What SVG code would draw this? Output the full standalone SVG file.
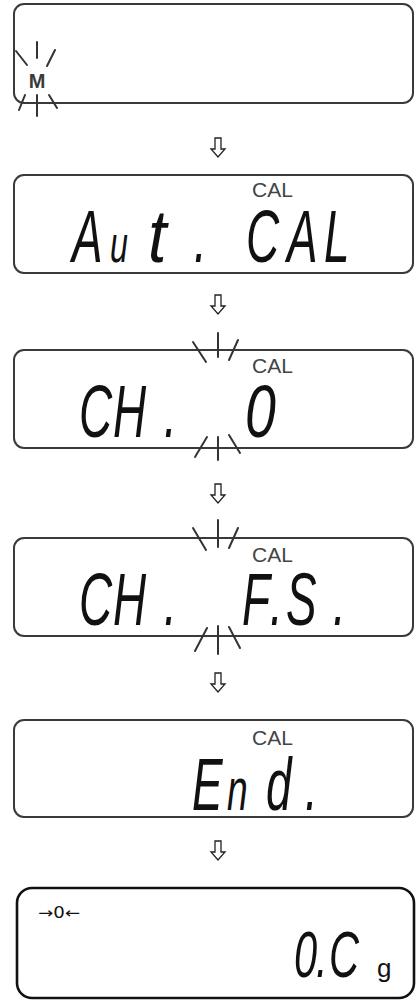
<svg xmlns="http://www.w3.org/2000/svg" width="416" height="1000" viewBox="0 0 416 1000">
<style>
.box{fill:#fff;stroke:#3a3a3a;stroke-width:2}
.box6{fill:#fff;stroke:#111;stroke-width:2.6}
.seg{font-family:"Liberation Sans",Arial,sans-serif;font-style:italic;font-size:74px;fill:#111}
.lc{font-size:52px}
.cal{font-family:"Liberation Sans",Arial,sans-serif;font-size:21px;fill:#444}
.ray{stroke:#333;stroke-width:2;stroke-linecap:round}
.arr{fill:#fff;stroke:#222;stroke-width:1.3;stroke-linejoin:miter}
</style>
<defs>
<path id="dn" class="arr" d="M-3,0 H3 V11 H7 L0,19 L-7,11 H-3 Z"/>
</defs>

<g id="connectors">
<use href="#dn" x="218" y="138"/>
<use href="#dn" x="218" y="295"/>
<use href="#dn" x="218" y="484"/>
<use href="#dn" x="218" y="673"/>
<use href="#dn" x="218" y="841"/>
</g>

<g id="node1">
<rect class="box" x="14" y="4" width="399" height="99" rx="10"/>
<text x="37" y="88" text-anchor="middle" font-family="Liberation Sans,Arial,sans-serif" font-weight="bold" font-size="20" fill="#3a3a3a">M</text>
<g class="ray">
<line x1="37" y1="42" x2="37" y2="58"/>
<line x1="16" y1="51" x2="27" y2="65"/>
<line x1="55" y1="50" x2="47" y2="66"/>
<line x1="37" y1="95" x2="37" y2="116"/>
<line x1="25" y1="95" x2="19" y2="110"/>
<line x1="49" y1="95" x2="57" y2="108"/>
</g>
</g>

<g id="node2">
<rect class="box" x="14" y="175" width="399" height="98" rx="10"/>
<text class="cal" x="252" y="197">CAL</text>
<text class="seg" transform="scale(0.62 1)" y="262"><tspan x="116.1">A</tspan><tspan class="lc" x="177.4">u</tspan></text>
<text class="seg" transform="scale(0.9 1)" x="164.4" y="262">t</text>
<text class="seg" transform="scale(0.62 1)" y="262"><tspan x="312.9">.</tspan><tspan x="396.8">C</tspan><tspan x="462.9">A</tspan><tspan x="522.6">L</tspan></text>
</g>

<g id="node3">
<rect class="box" x="14" y="350" width="399" height="98" rx="10"/>
<text class="cal" x="252" y="373">CAL</text>
<text class="seg" transform="scale(0.62 1)" y="437"><tspan x="127.4">C</tspan><tspan x="182.3">H</tspan><tspan x="264.5">.</tspan></text>
<text class="seg" transform="scale(0.75 1)" x="326.7" y="437">0</text>
<g class="ray">
<line x1="218" y1="333" x2="218" y2="357"/>
<line x1="193" y1="342" x2="206" y2="362"/>
<line x1="238" y1="340" x2="229" y2="360"/>
<line x1="218" y1="437" x2="218" y2="460"/>
<line x1="207" y1="437" x2="195" y2="457"/>
<line x1="229" y1="435" x2="240" y2="453"/>
</g>
</g>

<g id="node4">
<rect class="box" x="14" y="538" width="399" height="98" rx="10"/>
<text class="cal" x="252" y="562">CAL</text>
<text class="seg" transform="scale(0.62 1)" y="625"><tspan x="127.4">C</tspan><tspan x="182.3">H</tspan><tspan x="264.5">.</tspan></text>
<text class="seg" transform="scale(0.62 1)" y="625"><tspan x="390.3">F</tspan><tspan x="435.5">.</tspan><tspan x="461.3">S</tspan><tspan x="537.1">.</tspan></text>
<g class="ray">
<line x1="218" y1="520" x2="218" y2="547"/>
<line x1="193" y1="528" x2="206" y2="550"/>
<line x1="238" y1="528" x2="229" y2="548"/>
<line x1="218" y1="626" x2="218" y2="654"/>
<line x1="207" y1="628" x2="195" y2="651"/>
<line x1="229" y1="627" x2="240" y2="648"/>
</g>
</g>

<g id="node5">
<rect class="box" x="14" y="720" width="399" height="97" rx="10"/>
<text class="cal" x="252" y="745">CAL</text>
<text class="seg" transform="scale(0.62 1)" y="810"><tspan x="309.7">E</tspan><tspan x="366" style="font-size:60px">n</tspan><tspan x="429">d</tspan><tspan x="491.9">.</tspan></text>
</g>

<g id="node6">
<rect class="box6" x="17" y="888" width="397" height="110" rx="15"/>
<text x="38" y="918" font-family="DejaVu Sans,sans-serif" font-size="15" fill="#111" textLength="42" lengthAdjust="spacingAndGlyphs">→0←</text>
<text transform="scale(0.65 1)" y="977" font-family="Liberation Sans,Arial,sans-serif" font-style="italic" font-size="64" fill="#111"><tspan x="452.3">0</tspan><tspan x="486.2">.</tspan><tspan x="506.2">C</tspan></text>
<text x="377" y="977" font-family="Liberation Sans,Arial,sans-serif" font-size="26" fill="#111">g</text>
</g>
</svg>
